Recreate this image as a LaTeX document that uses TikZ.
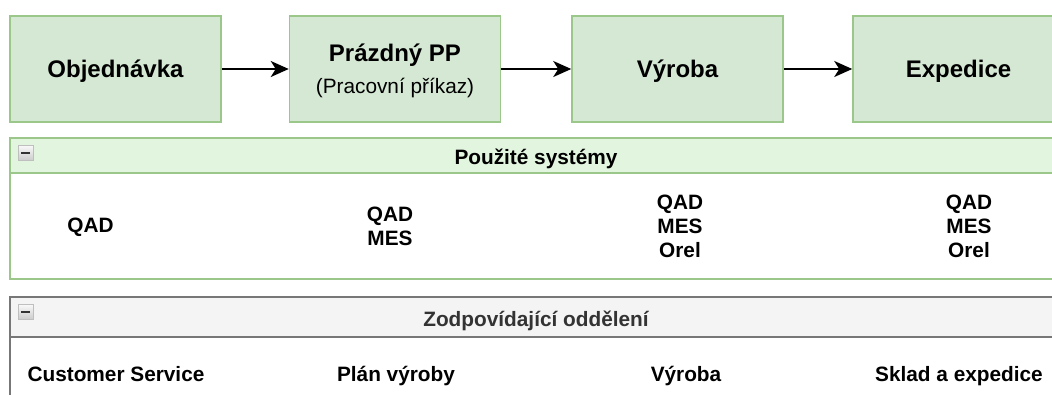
\documentclass[tikz,border=0pt]{standalone}
\usepackage{fontspec}
\setmainfont{Liberation Sans}
\usetikzlibrary{positioning,arrows.meta}
\definecolor{boxgreen}{HTML}{D5E8D4}
\definecolor{linegreen}{HTML}{9CC78A}
\definecolor{headgreen}{HTML}{E2F5DF}
\definecolor{headgray}{HTML}{F4F4F4}
\definecolor{linegray}{HTML}{777777}
\definecolor{textgray}{HTML}{333333}

\tikzset{
  stepbox/.style={draw=linegreen, fill=boxgreen, line width=1.5pt, minimum width=211pt,
    minimum height=106pt, inner sep=0pt, align=center, text depth=0pt,
    font=\fontsize{24}{27}\selectfont\bfseries},
  flow/.style={-{Stealth[length=18pt,width=16pt,inset=5pt]}, line width=2pt},
  entry/.style={align=center, font=\fontsize{20.8}{24}\selectfont\bfseries},
  minusicon/.style={draw=gray!50, top color=gray!5, bottom color=gray!40,
    minimum size=15pt, inner sep=0pt},
}

\begin{document}
\begin{tikzpicture}[x=1pt,y=-1pt]
    \useasboundingbox (0,0) rectangle (1052,394);
    % process steps
    \node[stepbox] (order) at (115.5,69) {Objednávka};
    \node[stepbox, text depth=1pt] (blank) at (395,69) {Prázdný PP\\[5pt]{\mdseries\fontsize{20.8}{24}\selectfont (Pracovní příkaz)}};
    \node[stepbox] (make) at (677.5,69) {Výroba};
    \node[stepbox] (ship) at (958.5,69) {Expedice};
    \draw[flow] (order) -- (blank);
    \draw[flow] (blank) -- (make);
    \draw[flow] (make) -- (ship);
    % systems panel
    \draw[draw=linegreen, line width=1.5pt] (10,138) rectangle (1062,279);
    \draw[draw=linegreen, fill=headgreen, line width=1.5pt] (10,138) rectangle (1062,173);
    \node[minusicon] (sysicon) at (25.5,153) {};
    \draw[line width=2pt, black!80] ([xshift=3.5pt]sysicon.west) -- ([xshift=-3.5pt]sysicon.east);
    \node[entry, anchor=base] (syshead) at (536,164.5) {Použité systémy};
    \node[entry] (sys1) at (90.5,227.5) {QAD};
    \node[entry] (sys2) at (390,226) {QAD\\MES};
    \node[entry] (sys3) at (680,226) {QAD\\MES\\Orel};
    \node[entry] (sys4) at (969,226) {QAD\\MES\\Orel};
    % departments panel
    \draw[draw=linegray, line width=1.5pt] (10,297) rectangle (1062,420);
    \draw[draw=linegray, fill=headgray, line width=1.5pt] (10,297) rectangle (1062,337);
    \node[minusicon] (depicon) at (25.5,312) {};
    \draw[line width=2pt, black!80] ([xshift=3.5pt]depicon.west) -- ([xshift=-3.5pt]depicon.east);
    \node[entry, anchor=base, text=textgray] (dephead) at (536,326) {Zodpovídající oddělení};
    \node[entry, anchor=base] (dep1) at (116,381) {Customer Service};
    \node[entry, anchor=base] (dep2) at (396,381) {Plán výroby};
    \node[entry, anchor=base] (dep3) at (686,381) {Výroba};
    \node[entry, anchor=base] (dep4) at (959,381) {Sklad a expedice};
\end{tikzpicture}
\end{document}
